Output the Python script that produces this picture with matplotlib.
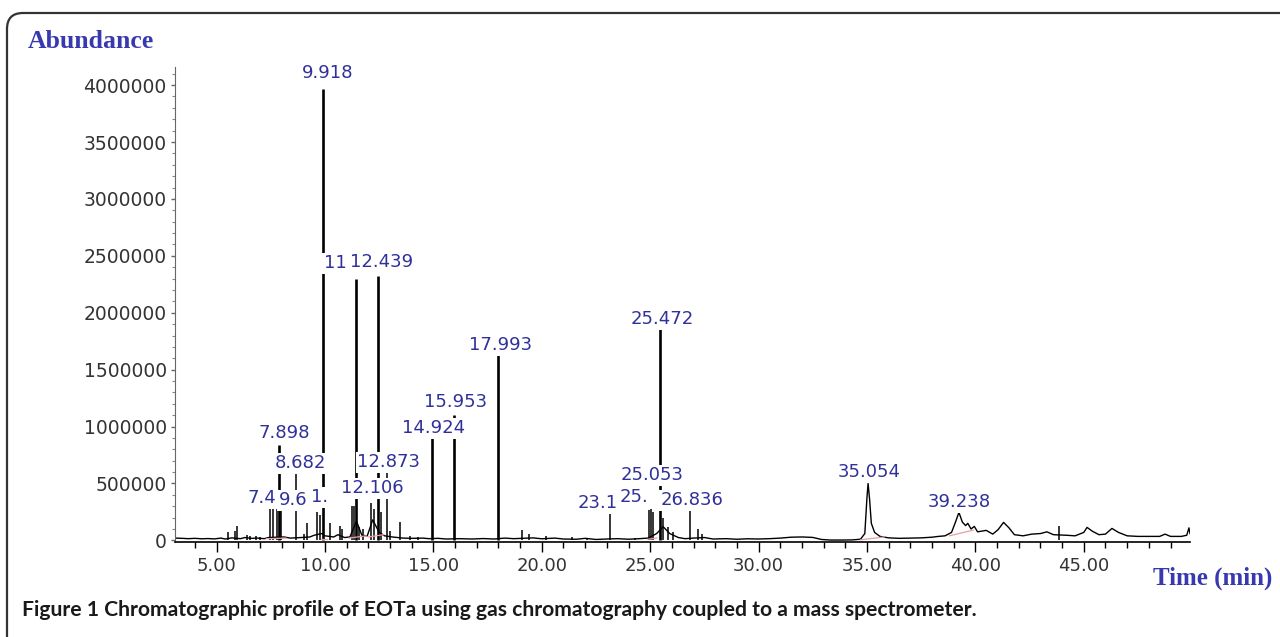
import matplotlib
matplotlib.use('Agg')
import matplotlib.pyplot as plt
from matplotlib.patches import FancyBboxPatch
from matplotlib.transforms import IdentityTransform
from matplotlib.ticker import MultipleLocator

# Sharp peaks (retention time in min, abundance)
peak_rt = [5.53, 5.85, 5.94, 6.4, 6.55, 6.8, 7.0,
           7.48, 7.62, 7.80, 7.898, 7.98,
           8.682, 9.05, 9.16, 9.62, 9.75, 9.918, 10.23,
           10.69, 10.8, 11.24, 11.34, 11.43, 11.55, 11.75,
           12.106, 12.25, 12.45, 12.6, 12.873, 13.0, 13.46, 13.9, 14.3,
           14.924, 15.953, 17.993,
           19.1, 19.4, 20.2, 21.4, 22.1,
           23.15, 24.3, 24.95, 25.05, 25.12, 25.472, 25.6, 25.8, 26.05,
           26.836, 27.2, 27.4, 43.85]
peak_h = [70e3, 80e3, 123e3, 45e3, 35e3, 40e3, 30e3,
          285e3, 290e3, 280e3, 835e3, 280e3,
          590e3, 60e3, 150e3, 245e3, 220e3, 3.97e6, 150e3,
          130e3, 100e3, 300e3, 300e3, 2.30e6, 120e3, 100e3,
          325e3, 280e3, 2.32e6, 250e3, 600e3, 80e3, 160e3, 40e3, 30e3,
          900e3, 1.10e6, 1.63e6,
          95e3, 60e3, 40e3, 30e3, 25e3,
          230e3, 25e3, 270e3, 280e3, 250e3, 1.86e6, 200e3, 120e3, 70e3,
          255e3, 100e3, 60e3, 130e3]

# Baseline and broad peaks
base_t = [3.1, 3.4, 3.7, 4.0, 4.3, 4.6, 4.9, 5.2, 5.4, 5.7, 6.1, 6.3, 6.6, 6.9,
          7.2, 7.4, 8.1, 8.4, 8.9, 9.3, 9.5, 9.85, 10.0, 10.4, 10.6, 10.9,
          11.15, 11.45, 11.7, 11.95, 12.2, 12.5, 12.75, 13.1, 13.6, 14.0, 14.5,
          14.8, 15.2, 15.6, 16.2, 16.8, 17.3, 17.8, 18.3, 18.7, 19.6, 20.0,
          20.6, 21.0, 21.6, 22.0, 22.5, 23.0, 23.5, 24.0, 24.5, 24.9, 25.3,
          25.6, 25.9, 26.3, 26.6, 27.0, 27.5, 27.9, 28.5, 29.0, 29.5, 30.0,
          30.5, 31.0, 31.5, 32.0, 32.5, 32.9, 33.3, 33.8, 34.3, 34.7, 34.9,
          35.0, 35.05, 35.12, 35.2, 35.35, 35.6, 36.0, 36.5, 37.0, 37.5, 38.0,
          38.3, 38.6, 38.9, 39.1, 39.24, 39.4, 39.55, 39.65, 39.8, 39.95, 40.1,
          40.5, 40.8, 41.05, 41.3, 41.55, 41.8, 42.2, 42.6, 43.0, 43.3, 43.6,
          44.2, 44.6, 45.0, 45.15, 45.4, 45.7, 46.0, 46.3, 46.6, 47.0, 47.5,
          48.0, 48.5, 48.75, 49.0, 49.5, 49.75, 49.85, 49.9]
base_y = [20e3, 18e3, 15e3, 18e3, 14e3, 16e3, 13e3, 20e3, 12e3, 22e3, 15e3, 25e3, 18e3, 20e3,
          15e3, 25e3, 30e3, 20e3, 25e3, 30e3, 45e3, 60e3, 40e3, 30e3, 50e3, 25e3,
          30e3, 170e3, 45e3, 40e3, 180e3, 70e3, 40e3, 30e3, 20e3, 18e3, 20e3,
          15e3, 18e3, 12e3, 15e3, 12e3, 16e3, 12e3, 20e3, 15e3, 22e3, 14e3,
          20e3, 12e3, 10e3, 18e3, 8e3, 12e3, 15e3, 10e3, 15e3, 20e3, 60e3,
          120e3, 60e3, 25e3, 15e3, 20e3, 25e3, 12e3, 15e3, 10e3, 14e3, 12e3,
          15e3, 20e3, 28e3, 30e3, 26e3, 8e3, 3e3, 3e3, 4e3, 10e3, 60e3,
          380e3, 500e3, 360e3, 150e3, 70e3, 35e3, 22e3, 18e3, 20e3, 22e3, 28e3,
          35e3, 40e3, 70e3, 170e3, 246e3, 160e3, 130e3, 150e3, 100e3, 123e3, 75e3,
          88e3, 55e3, 95e3, 158e3, 110e3, 50e3, 40e3, 55e3, 60e3, 75e3, 50e3,
          45e3, 40e3, 70e3, 114e3, 80e3, 50e3, 55e3, 105e3, 70e3, 40e3, 35e3,
          35e3, 35e3, 55e3, 35e3, 35e3, 45e3, 110e3, 60e3]

# Integration baselines (pink)
integ_t0 = [7.3, 9.8, 11.1, 12.0, 24.9, 34.7, 38.8]
integ_y0 = [15e3, 15e3, 20e3, 30e3, 10e3, 5e3, 40e3]
integ_t1 = [8.2, 10.1, 11.9, 12.7, 25.3, 35.8, 39.9]
integ_y1 = [20e3, 15e3, 40e3, 50e3, 20e3, 30e3, 90e3]

# Peak labels (partly hidden labels kept as they show)
label_text = ['9.918', '11', '12.439', '7.898', '8.682', '7.4', '9.6', '1.',
              '12.106', '12.873', '14.924', '15.953', '17.993', '25.472',
              '25.053', '23.1', '25.', '26.836', '35.054', '39.238']
label_t = [10.14, 10.46, 12.61, 8.13, 8.89, 7.07, 8.52, 9.77,
           12.17, 12.94, 15.03, 16.04, 18.12, 25.54,
           25.07, 22.58, 24.26, 26.92, 35.08, 39.26]
label_y = [4.105e6, 2.435e6, 2.45e6, 940e3, 677e3, 369e3, 352e3, 378e3,
           457e3, 686e3, 985e3, 1.213e6, 1.714e6, 1.943e6,
           571e3, 325e3, 378e3, 352e3, 598e3, 334e3]

yticks = [0, 500000, 1000000, 1500000, 2000000, 2500000, 3000000, 3500000, 4000000]
xticks = [5, 10, 15, 20, 25, 30, 35, 40, 45]

fig = plt.figure(figsize=(12.8, 6.37), dpi=100)
ax = fig.add_axes([0.1367, 0.149, 0.793, 0.746])

ax.plot(base_t, base_y, color='black', lw=1.0, zorder=2)
for t, h in zip(peak_rt, peak_h):
    ax.vlines(t, 0, h, color='black', lw=1.9 if h > 800e3 else 1.1, zorder=2)
for a, b, c, d in zip(integ_t0, integ_y0, integ_t1, integ_y1):
    ax.plot([a, c], [b, d], color='#e8a0a0', lw=0.9, zorder=3)

for s, t, y in zip(label_text, label_t, label_y):
    ax.text(t, y, s, ha='center', va='center', fontsize=13, color='#30309a',
            family='DejaVu Sans', zorder=5,
            bbox=dict(facecolor='white', edgecolor='none', pad=1.0))

ax.set_xlim(3.08, 49.9)
ax.set_ylim(-15000, 4.16e6)
ax.set_xticks(xticks)
ax.set_xticklabels(['%.2f' % x for x in xticks], family='DejaVu Sans')
ax.set_yticks(yticks)
ax.set_yticklabels([str(v) for v in yticks], family='DejaVu Sans')
ax.xaxis.set_minor_locator(MultipleLocator(1))
ax.yaxis.set_minor_locator(MultipleLocator(100000))

for side in ['top', 'right']:
    ax.spines[side].set_visible(False)
ax.spines['left'].set_color('#666666')
ax.spines['left'].set_linestyle((0, (4, 1)))
ax.spines['bottom'].set_linewidth(1.2)
ax.tick_params(axis='x', which='major', length=7, width=1, pad=4,
               labelsize=13, labelcolor='#333333')
ax.tick_params(axis='x', which='minor', length=4, width=1)
ax.tick_params(axis='y', which='major', length=3, width=1, pad=3,
               labelsize=13.5, labelcolor='#333333', color='#666666')
ax.tick_params(axis='y', which='minor', length=2, width=0.8, color='#888888')

fig.text(28 / 1280, 1 - 42 / 637, 'Abundance', family='Liberation Serif',
         weight='bold', fontsize=18.5, color='#3838b0', va='center')
fig.text(1272 / 1280, 1 - 578 / 637, 'Time (min)', family='Liberation Serif',
         weight='bold', fontsize=18, color='#3838b0', va='center', ha='right')
fig.text(22 / 1280, 1 - 610 / 637,
         'Figure 1 Chromatographic profile of EOTa using gas chromatography coupled to a mass spectrometer.',
         family='Lato', weight='bold', fontsize=15.2, color='#1a1a1a', va='center')

frame = FancyBboxPatch((7, -40), 1330, 637 - 13 + 40,
                       boxstyle='round,pad=0,rounding_size=16',
                       transform=IdentityTransform(), fill=False,
                       edgecolor='#333333', lw=1.6)
fig.patches.append(frame)

fig.savefig('out.png', dpi=100)
